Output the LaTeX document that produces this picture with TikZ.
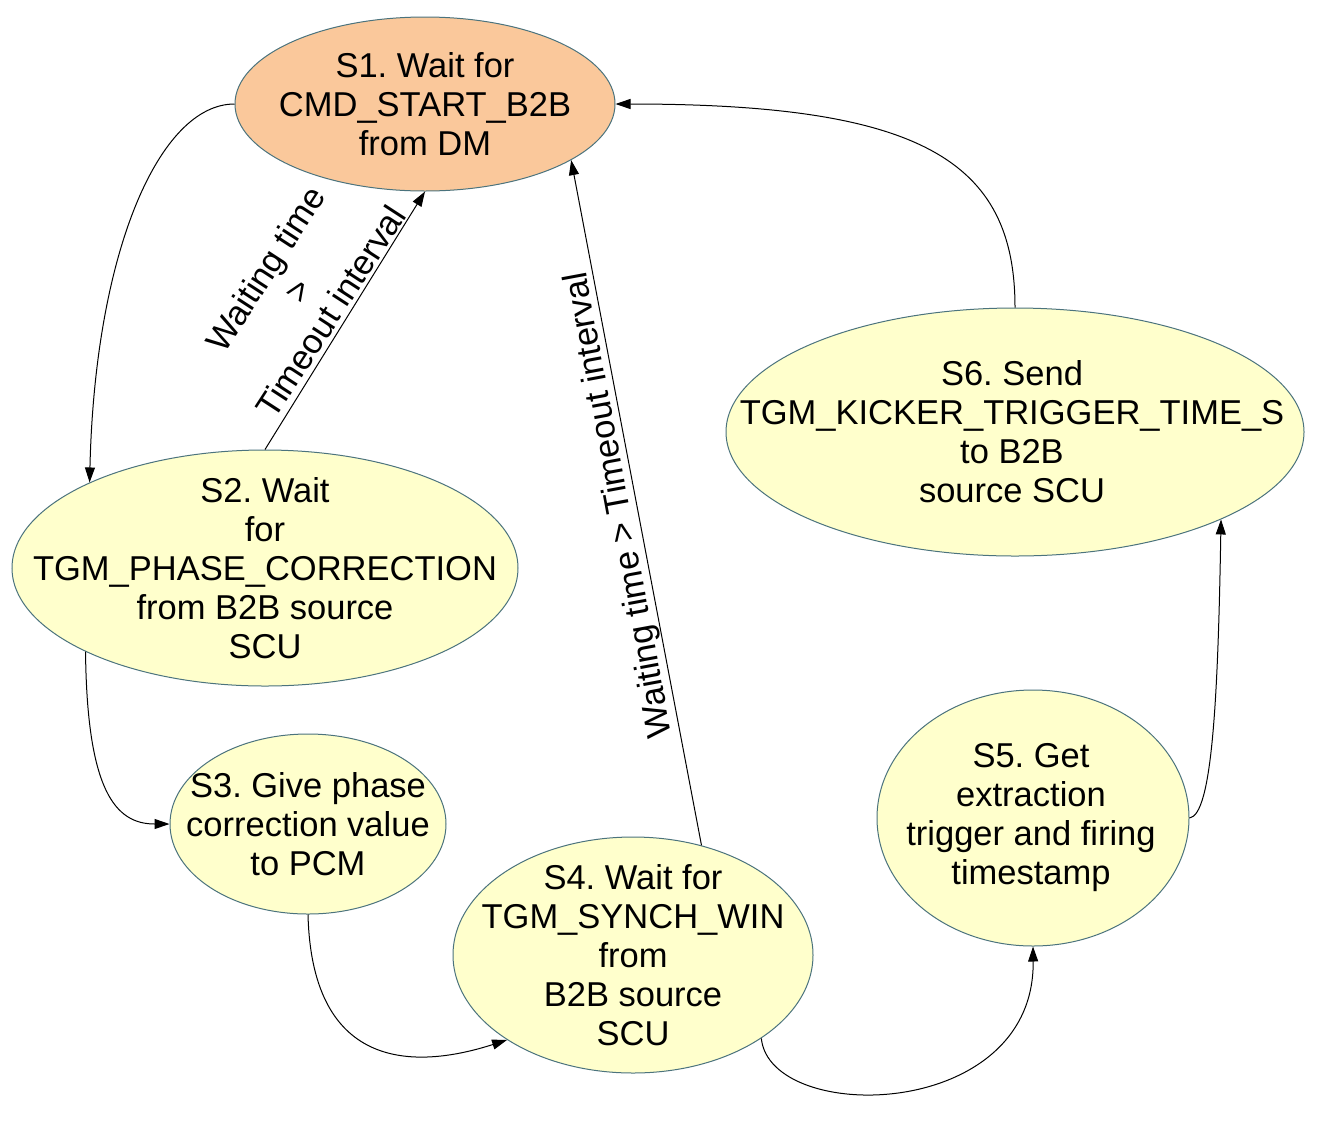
\documentclass[tikz,border=0pt]{standalone}
\usepackage{fontspec}
\setmainfont{Liberation Sans}
\usetikzlibrary{arrows.meta,shapes.geometric}
\definecolor{stroke}{RGB}{75,115,125}
\definecolor{yel}{RGB}{255,255,204}
\definecolor{org}{RGB}{250,200,155}
\frenchspacing
\begin{document}
\begin{tikzpicture}[x=1pt,y=-1pt,
  state/.style={ellipse, draw=stroke, line width=1pt, fill=yel, inner sep=0pt},
  txt/.style={align=center, inner sep=0pt, font=\fontsize{34.5}{39}\selectfont},
  arr/.style={draw=black, line width=1pt, -{Triangle[length=15pt,width=10pt]}}]
\useasboundingbox (0,0) rectangle (1320,1144);
\fill[white] (0,0) rectangle (1320,1144);

% states
\node[state, fill=org, minimum width=380pt, minimum height=174pt] (S1) at (425,104) {};
\node[state, minimum width=506pt, minimum height=236pt] (S2) at (265,568) {};
\node[state, minimum width=276pt, minimum height=180pt] (S3) at (308,824) {};
\node[state, minimum width=360pt, minimum height=236pt] (S4) at (633,955) {};
\node[state, minimum width=312pt, minimum height=256pt] (S5) at (1033,818) {};
\node[state, minimum width=578pt, minimum height=248pt] (S6) at (1015,432) {};

% texts
\node[txt] (T1) at (S1.center) {S1. Wait for\\CMD\_START\_B2B\\from DM};
\node[txt] (T2) at (S2.center) {S2. Wait\\for\\TGM\_PHASE\_CORRECTION\\from B2B source\\SCU};
\node[txt] (T3) at (S3.center) {S3. Give phase\\correction value\\to PCM};
\node[txt] (T4) at (S4.center) {S4. Wait for\\TGM\_SYNCH\_WIN\\from\\B2B source\\SCU};
\node[txt] (T5) at (1031,818) {S5. Get\\extraction\\trigger and firing\\timestamp};
\node[txt] (T6) at (1012,432) {S6. Send\\TGM\_KICKER\_TRIGGER\_TIME\_S\\to B2B\\source SCU};

% connectors
\draw[arr] (S1.west) .. controls (160,104) and (95,250) .. (S2.154.7);
\draw[arr] (S2.north) -- (S1.south);
\draw[arr] (S2.205.3) .. controls (87,790) and (115,824) .. (S3.west);
\draw[arr] (S3.south) .. controls (312,1075) and (420,1068) .. (S4.214.2);
\draw[arr] (S4.58) -- (S1.-21.3);
\draw[arr] (S4.-33.4) .. controls (770,1125) and (1035,1122) .. (S5.south);
\draw[arr] (S5.east) .. controls (1212,815) and (1218,700) .. (S6.-23.9);
\draw[arr] (S6.north) .. controls (1015,160) and (920,104) .. (S1.east);

% labels
\node[txt, rotate=57] (L1) at (298,290) {Waiting time\\>\\Timeout interval};
\node[txt, rotate=100.5] (L2) at (620,505) {Waiting time > Timeout interval};
\end{tikzpicture}
\end{document}
